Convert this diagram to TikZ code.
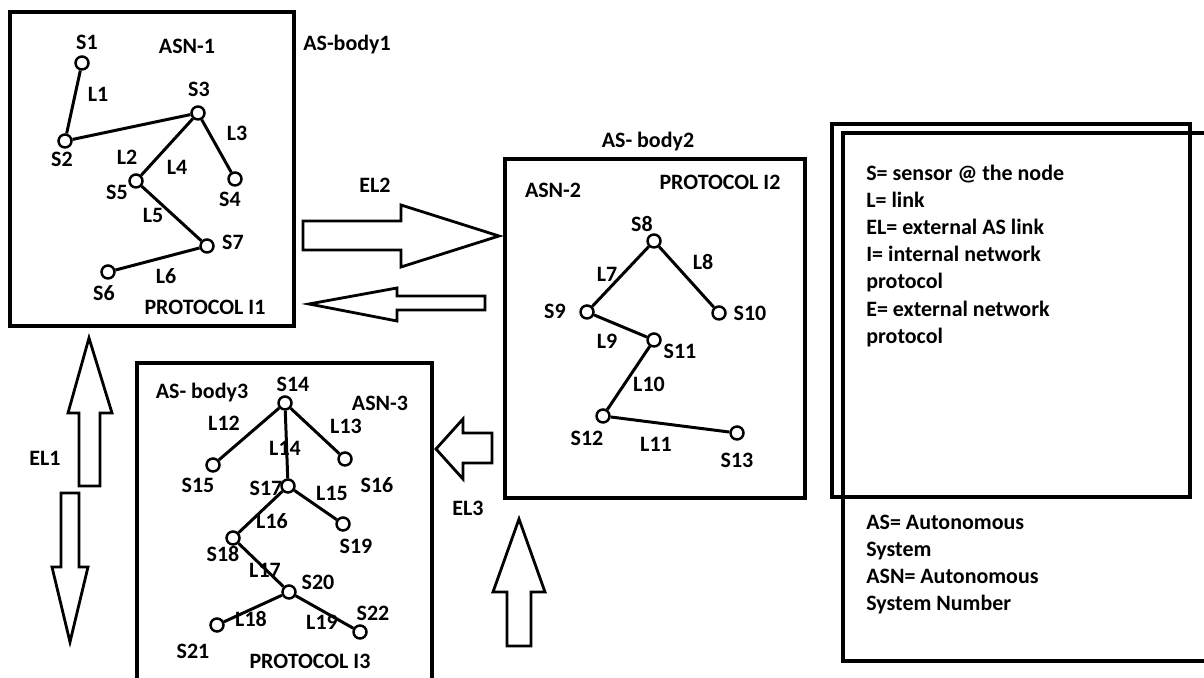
\documentclass[tikz,border=0pt]{standalone}
\usepackage{fontspec}
\setmainfont{Carlito}
\usetikzlibrary{positioning}
\tikzset{
  sensor/.style={draw,circle,line width=1.4pt,minimum size=0.26cm,inner sep=0pt,fill=white},
  lbl/.style={font=\fontsize{12.5}{15}\selectfont\bfseries,inner sep=0pt},
  legend/.style={font=\fontsize{12.5}{15.4}\selectfont\bfseries,inner sep=0pt,align=left,anchor=north west},
  link/.style={line width=1.7pt},
  asbox/.style={line width=1.8pt},
  blockarr/.style={line width=1.6pt,line join=miter},
}

\begin{document}
\begin{tikzpicture}[x=0.02cm,y=-0.02cm]
\useasboundingbox (0,0) rectangle (1204,678);
% AS-body1
\draw[asbox] (10,12) rectangle (294,326);
\node[lbl] (asn1) at (187,46) {ASN-1};
\node[lbl] (body1) at (347,45) {AS-body1};
\node[lbl] (prot1) at (205,307) {PROTOCOL I1};
\node[sensor] (s1) at (82,63) {};
\node[sensor] (s2) at (65,141) {};
\node[sensor] (s3) at (198,113) {};
\node[sensor] (s4) at (235,179) {};
\node[sensor] (s5) at (136,181) {};
\node[sensor] (s6) at (108,272) {};
\node[sensor] (s7) at (207,246) {};
\draw[link] (s1)--(s2); \draw[link] (s2)--(s3); \draw[link] (s3)--(s5);
\draw[link] (s3)--(s4); \draw[link] (s5)--(s7); \draw[link] (s7)--(s6);
\node[lbl] at (87,42) {S1};
\node[lbl] at (62,159) {S2};
\node[lbl] at (199,89) {S3};
\node[lbl] at (230,199) {S4};
\node[lbl] at (117,192) {S5};
\node[lbl] at (104,293) {S6};
\node[lbl] at (233,242) {S7};
\node[lbl] at (98,94) {L1};
\node[lbl] at (127,157) {L2};
\node[lbl] at (237,133) {L3};
\node[lbl] at (177,167) {L4};
\node[lbl] at (153,215) {L5};
\node[lbl] at (166,276) {L6};
% AS-body2
\draw[asbox] (505,159) rectangle (805,498);
\node[lbl] (body2) at (648,142) {AS- body2};
\node[lbl] (asn2) at (553,190) {ASN-2};
\node[lbl] (prot2) at (720,182) {PROTOCOL I2};
\node[sensor] (s8) at (654,241) {};
\node[sensor] (s9) at (587,312) {};
\node[sensor] (s10) at (719,313) {};
\node[sensor] (s11) at (654,340) {};
\node[sensor] (s12) at (603,416) {};
\node[sensor] (s13) at (737,433) {};
\draw[link] (s8)--(s9); \draw[link] (s8)--(s10); \draw[link] (s9)--(s11);
\draw[link] (s11)--(s12); \draw[link] (s12)--(s13);
\node[lbl] at (642,224) {S8};
\node[lbl] at (555,311) {S9};
\node[lbl] at (750,313) {S10};
\node[lbl] at (680,351) {S11};
\node[lbl] at (587,438) {S12};
\node[lbl] at (737,460) {S13};
\node[lbl] at (607,274) {L7};
\node[lbl] at (703,262) {L8};
\node[lbl] at (607,341) {L9};
\node[lbl] at (649,384) {L10};
\node[lbl] at (656,444) {L11};
% AS-body3
\draw[asbox] (137,363) rectangle (432,690);
\node[lbl] (body3) at (202,393) {AS- body3};
\node[lbl] (asn3) at (380,403) {ASN-3};
\node[lbl] (prot3) at (310,661) {PROTOCOL I3};
\node[sensor] (s14) at (285,403) {};
\node[sensor] (s15) at (213,465) {};
\node[sensor] (s16) at (345,459) {};
\node[sensor] (s17) at (288,486) {};
\node[sensor] (s18) at (233,538) {};
\node[sensor] (s19) at (343,524) {};
\node[sensor] (s20) at (289,592) {};
\node[sensor] (s21) at (217,625) {};
\node[sensor] (s22) at (360,632) {};
\draw[link] (s14)--(s15); \draw[link] (s14)--(s16); \draw[link] (s14)--(s17);
\draw[link] (s17)--(s19); \draw[link] (s17)--(s18); \draw[link] (s18)--(s20);
\draw[link] (s20)--(s21); \draw[link] (s20)--(s22);
\node[lbl] at (293,384) {S14};
\node[lbl] at (198,485) {S15};
\node[lbl] at (377,485) {S16};
\node[lbl] at (266,488) {S17};
\node[lbl] at (223,554) {S18};
\node[lbl] at (356,546) {S19};
\node[lbl] at (318,582) {S20};
\node[lbl] at (193,651) {S21};
\node[lbl] at (373,613) {S22};
\node[lbl] at (224,423) {L12};
\node[lbl] at (346,426) {L13};
\node[lbl] at (285,448) {L14};
\node[lbl] at (332,493) {L15};
\node[lbl] at (272,521) {L16};
\node[lbl] at (265,570) {L17};
\node[lbl] at (251,619) {L18};
\node[lbl] at (322,622) {L19};
% external links
\draw[blockarr] (303,221)--(401,221)--(401,205)--(499,236)--(401,267)--(401,250)--(303,250)--cycle;
\draw[blockarr] (485,296)--(397,296)--(397,288)--(309,304)--(397,321)--(397,310)--(485,310)--cycle;
\node[lbl] (el2) at (375,185) {EL2};
\draw[blockarr] (79,486)--(79,413)--(68,413)--(89,338)--(112,413)--(100,413)--(100,486)--cycle;
\draw[blockarr] (61,493)--(79,493)--(79,567)--(88,567)--(70,642)--(52,567)--(61,567)--cycle;
\node[lbl] (el1) at (45,458) {EL1};
\draw[blockarr] (492,433)--(463,433)--(463,419)--(436,449)--(463,479)--(463,463)--(492,463)--cycle;
\draw[blockarr] (507,646)--(507,592)--(493,592)--(519,519)--(545,592)--(531,592)--(531,646)--cycle;
\node[lbl] (el3) at (468,508) {EL3};
% legend
\draw[asbox] (832,124) rectangle (1190,497);
\draw[asbox] (843,133) rectangle (1215,661);
\node[legend] (key1) at (866,165) {S= sensor @ the node\\L= link\\EL= external AS link\\I= internal network\\protocol\\E= external network\\protocol};
\node[legend] (key2) at (866,515) {AS= Autonomous\\System\\ASN= Autonomous\\System Number};
\end{tikzpicture}
\end{document}
